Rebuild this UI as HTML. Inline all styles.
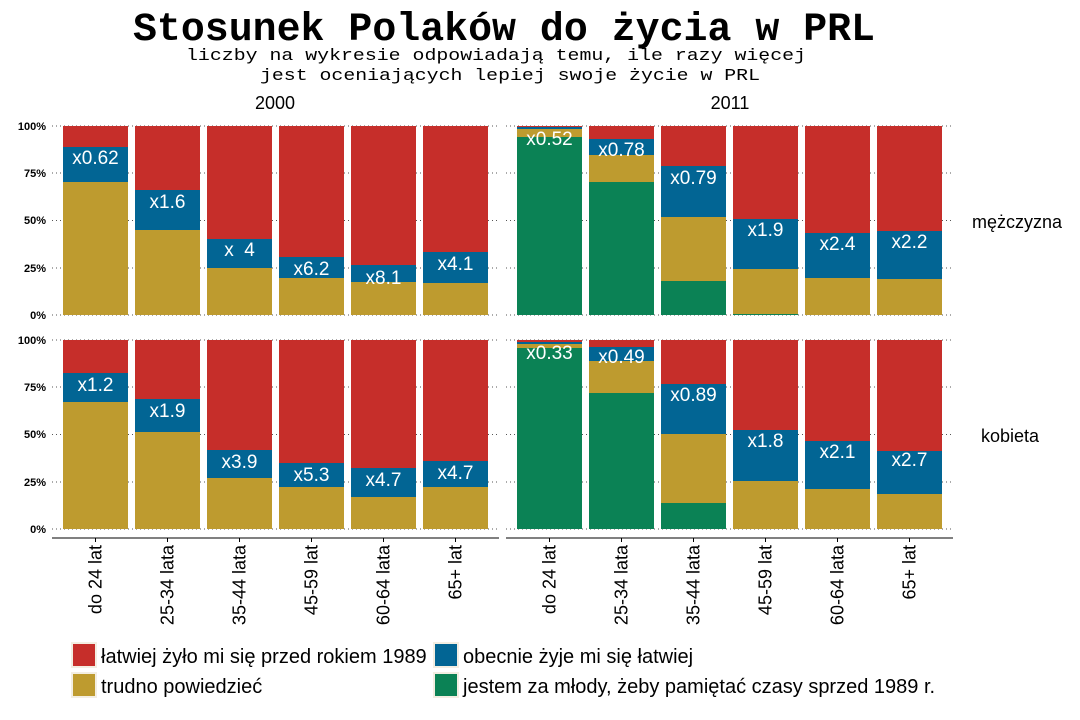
<!DOCTYPE html>
<html><head><meta charset="utf-8"><style>
body{margin:0;background:#fff;}
svg{display:block;}
text{font-family:"Liberation Sans",sans-serif;}
.m{font-family:"Liberation Mono",monospace;}
.lab{fill:#fff;font-size:19px;text-anchor:middle;}
.yt{font-size:11px;font-weight:bold;text-anchor:end;}
.xl{font-size:18px;text-anchor:end;}
.lg{font-size:20px;}
</style></head><body>
<svg width="1080" height="720" viewBox="0 0 1080 720" xmlns="http://www.w3.org/2000/svg">
<text class="m" x="504" y="40" font-size="40" font-weight="bold" text-anchor="middle" textLength="742" lengthAdjust="spacingAndGlyphs">Stosunek Polaków do życia w PRL</text>
<text class="m" x="496" y="60" font-size="17" text-anchor="middle" textLength="620" lengthAdjust="spacingAndGlyphs">liczby na wykresie odpowiadają temu, ile razy więcej</text>
<text class="m" x="510" y="80" font-size="17" text-anchor="middle" textLength="500" lengthAdjust="spacingAndGlyphs">jest oceniających lepiej swoje życie w PRL</text>
<text x="275" y="109" font-size="18" text-anchor="middle">2000</text>
<text x="730" y="109" font-size="18" text-anchor="middle">2011</text>
<text x="1017" y="228" font-size="18" text-anchor="middle">mężczyzna</text>
<text x="1010" y="442" font-size="18" text-anchor="middle">kobieta</text>
<g stroke="#555" stroke-width="1" stroke-dasharray="1,3">
<line x1="52" x2="499" y1="126" y2="126"/><line x1="52" x2="499" y1="173" y2="173"/><line x1="52" x2="499" y1="220.5" y2="220.5"/><line x1="52" x2="499" y1="268" y2="268"/><line x1="52" x2="499" y1="315" y2="315"/>
<line x1="506" x2="953" y1="126" y2="126"/><line x1="506" x2="953" y1="173" y2="173"/><line x1="506" x2="953" y1="220.5" y2="220.5"/><line x1="506" x2="953" y1="268" y2="268"/><line x1="506" x2="953" y1="315" y2="315"/>
<line x1="52" x2="499" y1="340" y2="340"/><line x1="52" x2="499" y1="387" y2="387"/><line x1="52" x2="499" y1="434.5" y2="434.5"/><line x1="52" x2="499" y1="482" y2="482"/><line x1="52" x2="499" y1="529" y2="529"/>
<line x1="506" x2="953" y1="340" y2="340"/><line x1="506" x2="953" y1="387" y2="387"/><line x1="506" x2="953" y1="434.5" y2="434.5"/><line x1="506" x2="953" y1="482" y2="482"/><line x1="506" x2="953" y1="529" y2="529"/>
</g>
<g class="yt">
<text x="46" y="130">100%</text><text x="46" y="177">75%</text><text x="46" y="224">50%</text><text x="46" y="272">25%</text><text x="46" y="319">0%</text>
<text x="46" y="344">100%</text><text x="46" y="391">75%</text><text x="46" y="438">50%</text><text x="46" y="486">25%</text><text x="46" y="533">0%</text>
</g>
<g id="bars"></g>
<line x1="52" x2="499" y1="538" y2="538" stroke="#000"/>
<line x1="506" x2="953" y1="538" y2="538" stroke="#000"/>
<g id="xl"></g>
<rect x="72" y="643" width="24" height="24" fill="#c62e2a" stroke="#f3eee2" stroke-width="2"/>
<text class="lg" x="101" y="663">łatwiej żyło mi się przed rokiem 1989</text>
<rect x="434" y="643" width="24" height="24" fill="#026594" stroke="#f3eee2" stroke-width="2"/>
<text class="lg" x="463" y="663">obecnie żyje mi się łatwiej</text>
<rect x="72" y="673" width="24" height="24" fill="#be9b2f" stroke="#f3eee2" stroke-width="2"/>
<text class="lg" x="101" y="693">trudno powiedzieć</text>
<rect x="434" y="673" width="24" height="24" fill="#0b8255" stroke="#f3eee2" stroke-width="2"/>
<text class="lg" x="463" y="693">jestem za młody, żeby pamiętać czasy sprzed 1989 r.</text>
</svg>
<script>
var C={r:"#c62e2a",b:"#026594",g:"#be9b2f",n:"#0b8255"};
var P=[
 {x0:63,top:126,bot:315,d:[[147,182,315,"x0.62",157],[190,230,315,"x1.6",201],[239,268,315,"x  4",249],[257,278,315,"x6.2",268],[265,282,315,"x8.1",277],[252,283,315,"x4.1",263]]},
 {x0:517,top:126,bot:315,d:[[127,129,137,"x0.52",138],[139,155,182,"x0.78",149],[166,217,281,"x0.79",177],[219,269,314,"x1.9",229],[233,278,315,"x2.4",243],[231,279,315,"x2.2",241]]},
 {x0:63,top:340,bot:529,d:[[373,402,529,"x1.2",384],[399,432,529,"x1.9",410],[450,478,529,"x3.9",461],[463,487,529,"x5.3",474],[468,497,529,"x4.7",479],[461,487,529,"x4.7",472]]},
 {x0:517,top:340,bot:529,d:[[342,344,348,"x0.33",352],[347,361,393,"x0.49",356],[384,434,503,"x0.89",394],[430,481,529,"x1.8",440],[441,489,529,"x2.1",451],[451,494,529,"x2.7",459]]}
];
var s="";
P.forEach(function(p){p.d.forEach(function(d,i){var x=p.x0+i*72,w=65;
s+='<rect x="'+x+'" y="'+p.top+'" width="'+w+'" height="'+(d[0]-p.top)+'" fill="'+C.r+'"/>';
s+='<rect x="'+x+'" y="'+d[0]+'" width="'+w+'" height="'+(d[1]-d[0])+'" fill="'+C.b+'"/>';
s+='<rect x="'+x+'" y="'+d[1]+'" width="'+w+'" height="'+(d[2]-d[1])+'" fill="'+C.g+'"/>';
if(d[2]<p.bot)s+='<rect x="'+x+'" y="'+d[2]+'" width="'+w+'" height="'+(p.bot-d[2])+'" fill="'+C.n+'"/>';
s+='<text class="lab" x="'+(x+w/2)+'" y="'+(d[4]+7)+'" xml:space="preserve">'+d[3]+'</text>';
});});
document.getElementById("bars").innerHTML=s;
var L=["do 24 lat","25-34 lata","35-44 lata","45-59 lat","60-64 lata","65+ lat"],t="";
[63,517].forEach(function(x0){L.forEach(function(l,i){var cx=x0+i*72+32.5;
t+='<line x1="'+cx+'" x2="'+cx+'" y1="538" y2="542" stroke="#000"/>';
t+='<text class="xl" transform="translate('+(cx+6)+',545) rotate(-90)">'+l+'</text>';});});
document.getElementById("xl").innerHTML=t;
</script>
</body></html>
